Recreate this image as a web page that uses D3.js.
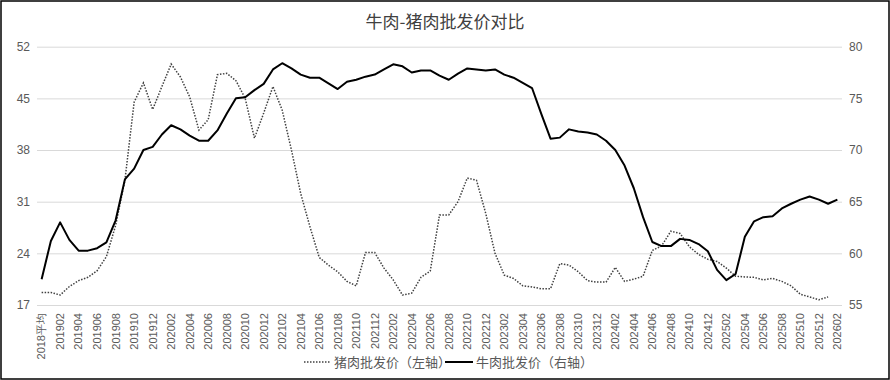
<!DOCTYPE html>
<html><head><meta charset="utf-8">
<script src="https://cdn.jsdelivr.net/npm/d3@7"></script>
<style>body{margin:0;background:#fff;} svg{display:block;font-family:"Noto Sans CJK SC","Noto Sans",sans-serif;}</style>
</head><body>
<svg id="c" width="890" height="380"></svg>
<script>
const months = [];
for (let y = 2019; y <= 2025; y++) for (let m = 1; m <= 12; m++) months.push(`${y}${String(m).padStart(2,"0")}`);
const categories = ["2018平均", ...months, "202601", "202602"];

const porkPrice = [18.7,18.7,18.35,19.5,20.3,20.75,21.65,23.55,27.8,33.9,44.5,47.1,43.5,46.6,49.65,47.9,45.2,40.7,42.1,48.2,48.4,47.4,45.0,39.6,43.0,46.6,43.4,38.0,32.1,27.6,23.45,22.4,21.5,20.2,19.6,24.1,24.1,22.0,20.4,18.35,18.6,20.75,21.6,29.2,29.2,31.0,34.2,33.9,29.4,24.0,21.05,20.6,19.6,19.45,19.2,19.2,22.6,22.4,21.5,20.3,20.1,20.1,22.1,20.2,20.5,20.9,24.4,25.0,27.0,26.7,24.9,23.85,23.2,22.9,22.0,20.9,20.8,20.75,20.4,20.6,20.2,19.6,18.45,18.1,17.7,18.1,null];
const beefPrice = [57.5,61.2,63.0,61.3,60.26,60.26,60.5,61.06,63.2,67.16,68.2,70.0,70.3,71.5,72.4,72.0,71.4,70.9,70.9,71.9,73.5,75.0,75.1,75.8,76.4,77.8,78.4,77.9,77.3,77.0,77.0,76.45,75.9,76.6,76.8,77.1,77.3,77.8,78.3,78.1,77.5,77.7,77.7,77.2,76.8,77.4,77.9,77.8,77.7,77.8,77.3,77.0,76.5,76.0,73.5,71.1,71.2,72.0,71.8,71.7,71.5,70.9,70.0,68.5,66.3,63.5,61.1,60.7,60.7,61.4,61.3,60.9,60.2,58.4,57.4,58.0,61.6,63.1,63.5,63.6,64.35,64.8,65.2,65.5,65.2,64.8,65.2];
const leftTicks = [17,24,31,38,45,52];
const rightTicks = [55,60,65,70,75,80];
const seriesNames = ["猪肉批发价（左轴）","牛肉批发价（右轴）"];
const title = "牛肉-猪肉批发价对比";

const svg = d3.select("#c");
const L = 37, R = 842, T = 46.7, B = 305;
const x = d3.scaleBand().domain(categories).range([L, R]);
const xc = d => x(d) + x.bandwidth()/2;
const yL = d3.scaleLinear().domain([17,52]).range([B,T]);
const yR = d3.scaleLinear().domain([55,80]).range([B,T]);
const txt = "#595959";

svg.append("rect").attr("x",1).attr("y",1).attr("width",888).attr("height",378)
  .attr("fill","#fff").attr("stroke","#000").attr("stroke-width",1.5);

svg.append("text").attr("x",445).attr("y",28).attr("text-anchor","middle")
  .attr("font-size",17).attr("fill","#404040").text(title);

// grid
const grid = d3.axisLeft(yL).tickValues(leftTicks).tickSize(-(R-L)).tickFormat("");
svg.append("g").attr("transform",`translate(${L},0)`).call(grid)
  .call(g=>g.select(".domain").remove())
  .call(g=>g.selectAll("line").attr("stroke","#d9d9d9").attr("stroke-width",1));

// left axis labels
svg.append("g").attr("transform",`translate(${L},0)`)
  .call(d3.axisLeft(yL).tickValues(leftTicks).tickSize(0).tickPadding(7))
  .call(g=>g.select(".domain").remove())
  .call(g=>g.selectAll("text").attr("font-size",12).attr("fill",txt).attr("font-family",null));
// right axis labels
svg.append("g").attr("transform",`translate(${R},0)`)
  .call(d3.axisRight(yR).tickValues(rightTicks).tickSize(0).tickPadding(7))
  .call(g=>g.select(".domain").remove())
  .call(g=>g.selectAll("text").attr("font-size",12).attr("fill",txt).attr("font-family",null));

// x axis labels
const xa = svg.append("g").attr("transform",`translate(0,${B})`)
  .call(d3.axisBottom(x).tickValues(categories.filter((d,i)=>i%2===0)).tickSize(0).tickPadding(0))
  .call(g=>g.select(".domain").remove());
xa.selectAll("text").attr("font-size",11).attr("fill",txt).attr("font-family",null)
  .attr("transform","rotate(-90)").attr("text-anchor","end").attr("dy","0.35em").attr("x",-8).attr("y",0);

// lines
const porkLine = d3.line().defined(d=>d[1]!=null).x(d=>xc(d[0])).y(d=>yL(d[1]));
const beefLine = d3.line().defined(d=>d[1]!=null).x(d=>xc(d[0])).y(d=>yR(d[1]));
svg.append("path").datum(categories.map((c,i)=>[c,porkPrice[i]]))
  .attr("d",porkLine).attr("fill","none").attr("stroke","#404040").attr("stroke-width",1.5)
  .attr("stroke-dasharray","1.5,1.5");
svg.append("path").datum(categories.map((c,i)=>[c,beefPrice[i]]))
  .attr("d",beefLine).attr("fill","none").attr("stroke","#000").attr("stroke-width",2).attr("stroke-linejoin","round");

// legend
const lg = svg.append("g").attr("font-size",13).attr("fill",txt);
lg.append("line").attr("x1",304).attr("x2",330).attr("y1",362).attr("y2",362)
  .attr("stroke","#404040").attr("stroke-width",1.5).attr("stroke-dasharray","1.5,1.5");
lg.append("text").attr("x",334).attr("y",362).attr("dy","0.35em").text(seriesNames[0]);
lg.append("line").attr("x1",445).attr("x2",473).attr("y1",362).attr("y2",362)
  .attr("stroke","#000").attr("stroke-width",2);
lg.append("text").attr("x",476).attr("y",362).attr("dy","0.35em").text(seriesNames[1]);
</script>
</body></html>
